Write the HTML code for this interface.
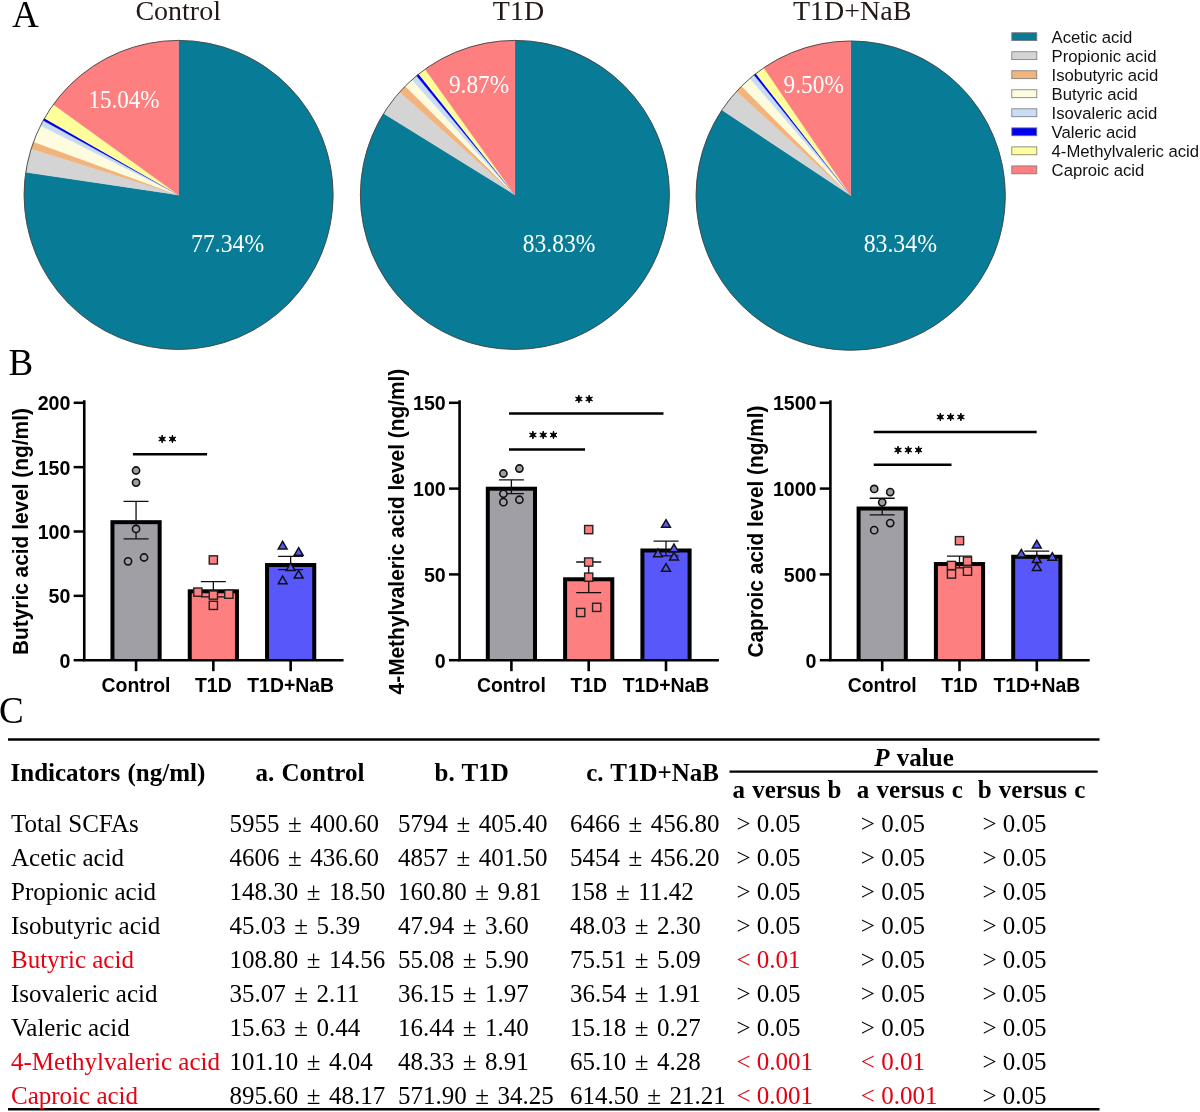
<!DOCTYPE html>
<html><head><meta charset="utf-8"><style>
html,body{margin:0;padding:0;background:#fff;}
svg{display:block;will-change:transform;}
.pt{font-family:"Liberation Serif",serif;font-size:28px;fill:#231815;}
.pl{font-family:"Liberation Serif",serif;font-size:22.5px;fill:#fff;}
.pan{font-family:"Liberation Serif",serif;font-size:37px;fill:#000;}
.lg{font-family:"Liberation Sans",sans-serif;font-size:16.7px;fill:#111;}
.tk{font-family:"Liberation Sans",sans-serif;font-size:19.6px;font-weight:bold;fill:#000;}
.xl{font-family:"Liberation Sans",sans-serif;font-size:19.4px;font-weight:bold;fill:#000;}
.yt{font-family:"Liberation Sans",sans-serif;font-size:21.8px;font-weight:bold;fill:#000;}
.tb{font-family:"Liberation Serif",serif;font-size:25px;font-weight:bold;fill:#000;white-space:pre;word-spacing:1px;}
.td{font-family:"Liberation Serif",serif;font-size:25px;fill:#000;white-space:pre;}
</style></head><body>
<svg width="1200" height="1112" viewBox="0 0 1200 1112">
<rect width="1200" height="1112" fill="#fff"/>
<path d="M178.60,194.90 L178.60,40.40 A154.5,154.5 0 1 1 25.77,172.27 Z" fill="#087c96" stroke="#087c96" stroke-width="0.3"/>
<path d="M178.60,194.90 L25.77,172.27 A154.5,154.5 0 0 1 31.16,148.73 Z" fill="#d4d4d4" stroke="#d4d4d4" stroke-width="0.3"/>
<path d="M178.60,194.90 L31.16,148.73 A154.5,154.5 0 0 1 33.52,141.78 Z" fill="#f2b47c" stroke="#f2b47c" stroke-width="0.3"/>
<path d="M178.60,194.90 L33.52,141.78 A154.5,154.5 0 0 1 40.56,125.51 Z" fill="#fefcde" stroke="#fefcde" stroke-width="0.3"/>
<path d="M178.60,194.90 L40.56,125.51 A154.5,154.5 0 0 1 43.22,120.45 Z" fill="#c8dcf5" stroke="#c8dcf5" stroke-width="0.3"/>
<path d="M178.60,194.90 L43.22,120.45 A154.5,154.5 0 0 1 44.47,118.23 Z" fill="#0000f0" stroke="#0000f0" stroke-width="0.3"/>
<path d="M178.60,194.90 L44.47,118.23 A154.5,154.5 0 0 1 53.39,104.39 Z" fill="#fefe9a" stroke="#fefe9a" stroke-width="0.3"/>
<path d="M178.60,194.90 L53.39,104.39 A154.5,154.5 0 0 1 178.60,40.40 Z" fill="#fe7f7f" stroke="#fe7f7f" stroke-width="0.3"/>
<circle cx="178.6" cy="194.9" r="154.5" fill="none" stroke="#444" stroke-width="0.9"/>
<text x="178.2" y="20" text-anchor="middle" class="pt">Control</text>
<text transform="translate(227.6,251.6) scale(1,1.1)" text-anchor="middle" class="pl" style="font-size:23.7px">77.34%</text>
<text transform="translate(124,107.6) scale(1,1.1)" text-anchor="middle" class="pl" style="font-size:23.1px">15.04%</text>
<path d="M514.90,194.90 L514.90,40.40 A154.5,154.5 0 1 1 383.59,113.49 Z" fill="#087c96" stroke="#087c96" stroke-width="0.3"/>
<path d="M514.90,194.90 L383.59,113.49 A154.5,154.5 0 0 1 399.71,91.94 Z" fill="#d4d4d4" stroke="#d4d4d4" stroke-width="0.3"/>
<path d="M514.90,194.90 L399.71,91.94 A154.5,154.5 0 0 1 405.22,86.09 Z" fill="#f2b47c" stroke="#f2b47c" stroke-width="0.3"/>
<path d="M514.90,194.90 L405.22,86.09 A154.5,154.5 0 0 1 411.91,79.74 Z" fill="#fefcde" stroke="#fefcde" stroke-width="0.3"/>
<path d="M514.90,194.90 L411.91,79.74 A154.5,154.5 0 0 1 416.50,75.79 Z" fill="#c8dcf5" stroke="#c8dcf5" stroke-width="0.3"/>
<path d="M514.90,194.90 L416.50,75.79 A154.5,154.5 0 0 1 418.64,74.05 Z" fill="#0000f0" stroke="#0000f0" stroke-width="0.3"/>
<path d="M514.90,194.90 L418.64,74.05 A154.5,154.5 0 0 1 425.10,69.18 Z" fill="#fefe9a" stroke="#fefe9a" stroke-width="0.3"/>
<path d="M514.90,194.90 L425.10,69.18 A154.5,154.5 0 0 1 514.90,40.40 Z" fill="#fe7f7f" stroke="#fe7f7f" stroke-width="0.3"/>
<circle cx="514.9" cy="194.9" r="154.5" fill="none" stroke="#444" stroke-width="0.9"/>
<text x="518.5" y="20" text-anchor="middle" class="pt">T1D</text>
<text transform="translate(559,251.7) scale(1,1.1)" text-anchor="middle" class="pl" style="font-size:23.6px">83.83%</text>
<text transform="translate(479,92.7) scale(1,1.1)" text-anchor="middle" class="pl" style="font-size:23.3px">9.87%</text>
<path d="M850.70,195.60 L850.70,41.00 A154.6,154.6 0 1 1 721.95,110.01 Z" fill="#087c96" stroke="#087c96" stroke-width="0.3"/>
<path d="M850.70,195.60 L721.95,110.01 A154.6,154.6 0 0 1 736.56,91.33 Z" fill="#d4d4d4" stroke="#d4d4d4" stroke-width="0.3"/>
<path d="M850.70,195.60 L736.56,91.33 A154.6,154.6 0 0 1 741.54,86.12 Z" fill="#f2b47c" stroke="#f2b47c" stroke-width="0.3"/>
<path d="M850.70,195.60 L741.54,86.12 A154.6,154.6 0 0 1 749.86,78.41 Z" fill="#fefcde" stroke="#fefcde" stroke-width="0.3"/>
<path d="M850.70,195.60 L749.86,78.41 A154.6,154.6 0 0 1 754.09,74.91 Z" fill="#c8dcf5" stroke="#c8dcf5" stroke-width="0.3"/>
<path d="M850.70,195.60 L754.09,74.91 A154.6,154.6 0 0 1 755.88,73.50 Z" fill="#0000f0" stroke="#0000f0" stroke-width="0.3"/>
<path d="M850.70,195.60 L755.88,73.50 A154.6,154.6 0 0 1 763.78,67.75 Z" fill="#fefe9a" stroke="#fefe9a" stroke-width="0.3"/>
<path d="M850.70,195.60 L763.78,67.75 A154.6,154.6 0 0 1 850.70,41.00 Z" fill="#fe7f7f" stroke="#fe7f7f" stroke-width="0.3"/>
<circle cx="850.7" cy="195.6" r="154.6" fill="none" stroke="#444" stroke-width="0.9"/>
<text x="852.2" y="20" text-anchor="middle" class="pt">T1D+NaB</text>
<text transform="translate(900.3,251.7) scale(1,1.1)" text-anchor="middle" class="pl" style="font-size:23.8px">83.34%</text>
<text transform="translate(813.7,92.7) scale(1,1.1)" text-anchor="middle" class="pl" style="font-size:23.3px">9.50%</text>
<text x="12" y="26.5" class="pan">A</text>
<text x="8.6" y="374.5" class="pan">B</text>
<text x="-1" y="722.5" class="pan">C</text>
<rect x="1011.8" y="32.70" width="25" height="7.9" fill="#087c96" stroke="#777" stroke-width="0.8"/>
<text x="1051.6" y="42.50" class="lg">Acetic acid</text>
<rect x="1011.8" y="51.73" width="25" height="7.9" fill="#d4d4d4" stroke="#777" stroke-width="0.8"/>
<text x="1051.6" y="61.57" class="lg">Propionic acid</text>
<rect x="1011.8" y="70.76" width="25" height="7.9" fill="#f2b47c" stroke="#777" stroke-width="0.8"/>
<text x="1051.6" y="80.64" class="lg">Isobutyric acid</text>
<rect x="1011.8" y="89.79" width="25" height="7.9" fill="#fefcde" stroke="#777" stroke-width="0.8"/>
<text x="1051.6" y="99.71" class="lg">Butyric acid</text>
<rect x="1011.8" y="108.82" width="25" height="7.9" fill="#c8dcf5" stroke="#777" stroke-width="0.8"/>
<text x="1051.6" y="118.78" class="lg">Isovaleric acid</text>
<rect x="1011.8" y="127.85" width="25" height="7.9" fill="#0000f0" stroke="#777" stroke-width="0.8"/>
<text x="1051.6" y="137.85" class="lg">Valeric acid</text>
<rect x="1011.8" y="146.88" width="25" height="7.9" fill="#fefe9a" stroke="#777" stroke-width="0.8"/>
<text x="1051.6" y="156.92" class="lg">4-Methylvaleric acid</text>
<rect x="1011.8" y="165.91" width="25" height="7.9" fill="#fe7f7f" stroke="#777" stroke-width="0.8"/>
<text x="1051.6" y="175.99" class="lg">Caproic acid</text>
<rect x="110.45" y="520.17" width="51.2" height="140.03" fill="#000"/>
<rect x="114.45" y="524.17" width="43.2" height="136.03" fill="#a09fa6"/>
<rect x="187.75" y="589.31" width="51.2" height="70.89" fill="#000"/>
<rect x="191.75" y="593.31" width="43.2" height="66.89" fill="#fe7f7f"/>
<rect x="265.05" y="563.02" width="51.2" height="97.18" fill="#000"/>
<rect x="269.05" y="567.02" width="43.2" height="93.18" fill="#5757fa"/>
<path d="M84.25,401.55V660.20H342.25" fill="none" stroke="#000" stroke-width="2.6" stroke-linecap="square"/>
<path d="M73.65,660.20H84.25" stroke="#000" stroke-width="2.5"/>
<text x="70.35" y="667.60" text-anchor="end" class="tk">0</text>
<path d="M73.65,595.85H84.25" stroke="#000" stroke-width="2.5"/>
<text x="70.35" y="603.25" text-anchor="end" class="tk">50</text>
<path d="M73.65,531.50H84.25" stroke="#000" stroke-width="2.5"/>
<text x="70.35" y="538.90" text-anchor="end" class="tk">100</text>
<path d="M73.65,467.15H84.25" stroke="#000" stroke-width="2.5"/>
<text x="70.35" y="474.55" text-anchor="end" class="tk">150</text>
<path d="M73.65,402.80H84.25" stroke="#000" stroke-width="2.5"/>
<text x="70.35" y="410.20" text-anchor="end" class="tk">200</text>
<path d="M136.05,660.20V671.20" stroke="#000" stroke-width="2.6"/>
<text x="136.05" y="691.5" text-anchor="middle" class="xl">Control</text>
<path d="M213.35,660.20V671.20" stroke="#000" stroke-width="2.6"/>
<text x="213.35" y="691.5" text-anchor="middle" class="xl">T1D</text>
<path d="M290.65,660.20V671.20" stroke="#000" stroke-width="2.6"/>
<text x="290.65" y="691.5" text-anchor="middle" class="xl">T1D+NaB</text>
<text transform="translate(28.3,531.6) rotate(-90)" text-anchor="middle" class="yt" textLength="247" lengthAdjust="spacingAndGlyphs">Butyric acid level (ng/ml)</text>
<path d="M136.05,501.44V538.91M123.55,501.44H148.55M123.55,538.91H148.55" stroke="#111" stroke-width="1.3" fill="none"/>
<path d="M213.35,581.72V596.91M200.85,581.72H225.85M200.85,596.91H225.85" stroke="#111" stroke-width="1.3" fill="none"/>
<path d="M290.65,556.47V569.57M278.15,556.47H303.15M278.15,569.57H303.15" stroke="#111" stroke-width="1.3" fill="none"/>
<circle cx="136.05" cy="470.50" r="3.6" fill="#a09fa6" stroke="#111" stroke-width="1.6"/>
<circle cx="136.05" cy="482.59" r="3.6" fill="#a09fa6" stroke="#111" stroke-width="1.6"/>
<circle cx="136.05" cy="528.93" r="3.6" fill="#a09fa6" stroke="#111" stroke-width="1.6"/>
<circle cx="128.05" cy="561.36" r="3.6" fill="#a09fa6" stroke="#111" stroke-width="1.6"/>
<circle cx="144.05" cy="557.50" r="3.6" fill="#a09fa6" stroke="#111" stroke-width="1.6"/>
<rect x="209.25" y="555.84" width="8.2" height="8.2" fill="#fe7f7f" stroke="#222" stroke-width="1.4"/>
<rect x="193.75" y="588.02" width="8.2" height="8.2" fill="#fe7f7f" stroke="#222" stroke-width="1.4"/>
<rect x="209.25" y="590.98" width="8.2" height="8.2" fill="#fe7f7f" stroke="#222" stroke-width="1.4"/>
<rect x="224.75" y="590.08" width="8.2" height="8.2" fill="#fe7f7f" stroke="#222" stroke-width="1.4"/>
<rect x="209.25" y="601.27" width="8.2" height="8.2" fill="#fe7f7f" stroke="#222" stroke-width="1.4"/>
<path d="M282.65,541.37L287.05,548.97L278.25,548.97Z" fill="#5757fa" stroke="#111" stroke-width="1.5" stroke-linejoin="miter"/>
<path d="M298.65,547.68L303.05,555.28L294.25,555.28Z" fill="#5757fa" stroke="#111" stroke-width="1.5" stroke-linejoin="miter"/>
<path d="M290.65,562.99L295.05,570.59L286.25,570.59Z" fill="#5757fa" stroke="#111" stroke-width="1.5" stroke-linejoin="miter"/>
<path d="M298.65,570.46L303.05,578.06L294.25,578.06Z" fill="#5757fa" stroke="#111" stroke-width="1.5" stroke-linejoin="miter"/>
<path d="M282.65,576.12L287.05,583.72L278.25,583.72Z" fill="#5757fa" stroke="#111" stroke-width="1.5" stroke-linejoin="miter"/>
<path d="M132.90,454.30H207.10" stroke="#000" stroke-width="2.5"/>
<path d="M162.15,435.10L162.90,437.70L165.53,437.05L163.65,439.00L165.53,440.95L162.90,440.30L162.15,442.90L161.40,440.30L158.77,440.95L160.65,439.00L158.77,437.05L161.40,437.70ZM172.45,435.10L173.20,437.70L175.83,437.05L173.95,439.00L175.83,440.95L173.20,440.30L172.45,442.90L171.70,440.30L169.07,440.95L170.95,439.00L169.07,437.05L171.70,437.70Z" fill="#000" stroke="#000" stroke-width="0.9" stroke-linejoin="round"/>
<rect x="485.80" y="486.71" width="51.2" height="173.49" fill="#000"/>
<rect x="489.80" y="490.71" width="43.2" height="169.49" fill="#a09fa6"/>
<rect x="563.10" y="577.27" width="51.2" height="82.93" fill="#000"/>
<rect x="567.10" y="581.27" width="43.2" height="78.93" fill="#fe7f7f"/>
<rect x="640.40" y="548.49" width="51.2" height="111.71" fill="#000"/>
<rect x="644.40" y="552.49" width="43.2" height="107.71" fill="#5757fa"/>
<path d="M459.60,401.55V660.20H717.60" fill="none" stroke="#000" stroke-width="2.6" stroke-linecap="square"/>
<path d="M449.00,660.20H459.60" stroke="#000" stroke-width="2.5"/>
<text x="445.70" y="667.60" text-anchor="end" class="tk">0</text>
<path d="M449.00,574.40H459.60" stroke="#000" stroke-width="2.5"/>
<text x="445.70" y="581.80" text-anchor="end" class="tk">50</text>
<path d="M449.00,488.60H459.60" stroke="#000" stroke-width="2.5"/>
<text x="445.70" y="496.00" text-anchor="end" class="tk">100</text>
<path d="M449.00,402.80H459.60" stroke="#000" stroke-width="2.5"/>
<text x="445.70" y="410.20" text-anchor="end" class="tk">150</text>
<path d="M511.40,660.20V671.20" stroke="#000" stroke-width="2.6"/>
<text x="511.40" y="691.5" text-anchor="middle" class="xl">Control</text>
<path d="M588.70,660.20V671.20" stroke="#000" stroke-width="2.6"/>
<text x="588.70" y="691.5" text-anchor="middle" class="xl">T1D</text>
<path d="M666.00,660.20V671.20" stroke="#000" stroke-width="2.6"/>
<text x="666.00" y="691.5" text-anchor="middle" class="xl">T1D+NaB</text>
<text transform="translate(403.8,531.6) rotate(-90)" text-anchor="middle" class="yt" textLength="325.6" lengthAdjust="spacingAndGlyphs">4-Methylvaleric acid level (ng/ml)</text>
<path d="M511.40,479.78V493.65M498.90,479.78H523.90M498.90,493.65H523.90" stroke="#111" stroke-width="1.3" fill="none"/>
<path d="M588.70,561.98V592.56M576.20,561.98H601.20M576.20,592.56H601.20" stroke="#111" stroke-width="1.3" fill="none"/>
<path d="M666.00,541.14V555.83M653.50,541.14H678.50M653.50,555.83H678.50" stroke="#111" stroke-width="1.3" fill="none"/>
<circle cx="503.40" cy="473.50" r="3.6" fill="#a09fa6" stroke="#111" stroke-width="1.6"/>
<circle cx="519.40" cy="468.52" r="3.6" fill="#a09fa6" stroke="#111" stroke-width="1.6"/>
<circle cx="503.40" cy="493.75" r="3.6" fill="#a09fa6" stroke="#111" stroke-width="1.6"/>
<circle cx="503.40" cy="502.16" r="3.6" fill="#a09fa6" stroke="#111" stroke-width="1.6"/>
<circle cx="519.40" cy="499.75" r="3.6" fill="#a09fa6" stroke="#111" stroke-width="1.6"/>
<rect x="584.60" y="525.51" width="8.2" height="8.2" fill="#fe7f7f" stroke="#222" stroke-width="1.4"/>
<rect x="584.60" y="557.94" width="8.2" height="8.2" fill="#fe7f7f" stroke="#222" stroke-width="1.4"/>
<rect x="584.60" y="573.05" width="8.2" height="8.2" fill="#fe7f7f" stroke="#222" stroke-width="1.4"/>
<rect x="576.60" y="608.40" width="8.2" height="8.2" fill="#fe7f7f" stroke="#222" stroke-width="1.4"/>
<rect x="592.60" y="603.25" width="8.2" height="8.2" fill="#fe7f7f" stroke="#222" stroke-width="1.4"/>
<path d="M666.00,519.71L670.40,527.31L661.60,527.31Z" fill="#5757fa" stroke="#111" stroke-width="1.5" stroke-linejoin="miter"/>
<path d="M674.00,544.07L678.40,551.67L669.60,551.67Z" fill="#5757fa" stroke="#111" stroke-width="1.5" stroke-linejoin="miter"/>
<path d="M658.00,549.05L662.40,556.65L653.60,556.65Z" fill="#5757fa" stroke="#111" stroke-width="1.5" stroke-linejoin="miter"/>
<path d="M674.00,552.31L678.40,559.91L669.60,559.91Z" fill="#5757fa" stroke="#111" stroke-width="1.5" stroke-linejoin="miter"/>
<path d="M666.00,563.64L670.40,571.24L661.60,571.24Z" fill="#5757fa" stroke="#111" stroke-width="1.5" stroke-linejoin="miter"/>
<path d="M509.00,413.50H663.50" stroke="#000" stroke-width="2.5"/>
<path d="M578.85,395.10L579.60,397.70L582.23,397.05L580.35,399.00L582.23,400.95L579.60,400.30L578.85,402.90L578.10,400.30L575.47,400.95L577.35,399.00L575.47,397.05L578.10,397.70ZM589.15,395.10L589.90,397.70L592.53,397.05L590.65,399.00L592.53,400.95L589.90,400.30L589.15,402.90L588.40,400.30L585.77,400.95L587.65,399.00L585.77,397.05L588.40,397.70Z" fill="#000" stroke="#000" stroke-width="0.9" stroke-linejoin="round"/>
<path d="M509.00,449.50H585.00" stroke="#000" stroke-width="2.5"/>
<path d="M532.90,431.10L533.65,433.70L536.28,433.05L534.40,435.00L536.28,436.95L533.65,436.30L532.90,438.90L532.15,436.30L529.52,436.95L531.40,435.00L529.52,433.05L532.15,433.70ZM543.20,431.10L543.95,433.70L546.58,433.05L544.70,435.00L546.58,436.95L543.95,436.30L543.20,438.90L542.45,436.30L539.82,436.95L541.70,435.00L539.82,433.05L542.45,433.70ZM553.50,431.10L554.25,433.70L556.88,433.05L555.00,435.00L556.88,436.95L554.25,436.30L553.50,438.90L552.75,436.30L550.12,436.95L552.00,435.00L550.12,433.05L552.75,433.70Z" fill="#000" stroke="#000" stroke-width="0.9" stroke-linejoin="round"/>
<rect x="856.60" y="506.52" width="51.2" height="153.68" fill="#000"/>
<rect x="860.60" y="510.52" width="43.2" height="149.68" fill="#a09fa6"/>
<rect x="933.90" y="562.06" width="51.2" height="98.14" fill="#000"/>
<rect x="937.90" y="566.06" width="43.2" height="94.14" fill="#fe7f7f"/>
<rect x="1011.20" y="554.75" width="51.2" height="105.45" fill="#000"/>
<rect x="1015.20" y="558.75" width="43.2" height="101.45" fill="#5757fa"/>
<path d="M830.40,401.55V660.20H1088.40" fill="none" stroke="#000" stroke-width="2.6" stroke-linecap="square"/>
<path d="M819.80,660.20H830.40" stroke="#000" stroke-width="2.5"/>
<text x="816.50" y="667.60" text-anchor="end" class="tk">0</text>
<path d="M819.80,574.40H830.40" stroke="#000" stroke-width="2.5"/>
<text x="816.50" y="581.80" text-anchor="end" class="tk">500</text>
<path d="M819.80,488.60H830.40" stroke="#000" stroke-width="2.5"/>
<text x="816.50" y="496.00" text-anchor="end" class="tk">1000</text>
<path d="M819.80,402.80H830.40" stroke="#000" stroke-width="2.5"/>
<text x="816.50" y="410.20" text-anchor="end" class="tk">1500</text>
<path d="M882.20,660.20V671.20" stroke="#000" stroke-width="2.6"/>
<text x="882.20" y="691.5" text-anchor="middle" class="xl">Control</text>
<path d="M959.50,660.20V671.20" stroke="#000" stroke-width="2.6"/>
<text x="959.50" y="691.5" text-anchor="middle" class="xl">T1D</text>
<path d="M1036.80,660.20V671.20" stroke="#000" stroke-width="2.6"/>
<text x="1036.80" y="691.5" text-anchor="middle" class="xl">T1D+NaB</text>
<text transform="translate(763.2,531.6) rotate(-90)" text-anchor="middle" class="yt" textLength="252" lengthAdjust="spacingAndGlyphs">Caproic acid level (ng/ml)</text>
<path d="M882.20,498.25V514.78M869.70,498.25H894.70M869.70,514.78H894.70" stroke="#111" stroke-width="1.3" fill="none"/>
<path d="M959.50,556.18V567.94M947.00,556.18H972.00M947.00,567.94H972.00" stroke="#111" stroke-width="1.3" fill="none"/>
<path d="M1036.80,551.11V558.39M1024.30,551.11H1049.30M1024.30,558.39H1049.30" stroke="#111" stroke-width="1.3" fill="none"/>
<circle cx="874.20" cy="488.94" r="3.6" fill="#a09fa6" stroke="#111" stroke-width="1.6"/>
<circle cx="890.20" cy="492.03" r="3.6" fill="#a09fa6" stroke="#111" stroke-width="1.6"/>
<circle cx="882.20" cy="502.33" r="3.6" fill="#a09fa6" stroke="#111" stroke-width="1.6"/>
<circle cx="890.20" cy="523.09" r="3.6" fill="#a09fa6" stroke="#111" stroke-width="1.6"/>
<circle cx="874.20" cy="530.13" r="3.6" fill="#a09fa6" stroke="#111" stroke-width="1.6"/>
<rect x="955.40" y="536.58" width="8.2" height="8.2" fill="#fe7f7f" stroke="#222" stroke-width="1.4"/>
<rect x="947.40" y="561.38" width="8.2" height="8.2" fill="#fe7f7f" stroke="#222" stroke-width="1.4"/>
<rect x="963.40" y="557.09" width="8.2" height="8.2" fill="#fe7f7f" stroke="#222" stroke-width="1.4"/>
<rect x="947.40" y="569.96" width="8.2" height="8.2" fill="#fe7f7f" stroke="#222" stroke-width="1.4"/>
<rect x="963.40" y="567.11" width="8.2" height="8.2" fill="#fe7f7f" stroke="#222" stroke-width="1.4"/>
<path d="M1036.80,540.30L1041.20,547.90L1032.40,547.90Z" fill="#5757fa" stroke="#111" stroke-width="1.5" stroke-linejoin="miter"/>
<path d="M1021.30,549.44L1025.70,557.04L1016.90,557.04Z" fill="#5757fa" stroke="#111" stroke-width="1.5" stroke-linejoin="miter"/>
<path d="M1052.30,552.74L1056.70,560.34L1047.90,560.34Z" fill="#5757fa" stroke="#111" stroke-width="1.5" stroke-linejoin="miter"/>
<path d="M1036.80,554.94L1041.20,562.54L1032.40,562.54Z" fill="#5757fa" stroke="#111" stroke-width="1.5" stroke-linejoin="miter"/>
<path d="M1036.80,562.81L1041.20,570.41L1032.40,570.41Z" fill="#5757fa" stroke="#111" stroke-width="1.5" stroke-linejoin="miter"/>
<path d="M873.70,432.00H1036.70" stroke="#000" stroke-width="2.5"/>
<path d="M940.30,413.10L941.05,415.70L943.68,415.05L941.80,417.00L943.68,418.95L941.05,418.30L940.30,420.90L939.55,418.30L936.92,418.95L938.80,417.00L936.92,415.05L939.55,415.70ZM950.60,413.10L951.35,415.70L953.98,415.05L952.10,417.00L953.98,418.95L951.35,418.30L950.60,420.90L949.85,418.30L947.22,418.95L949.10,417.00L947.22,415.05L949.85,415.70ZM960.90,413.10L961.65,415.70L964.28,415.05L962.40,417.00L964.28,418.95L961.65,418.30L960.90,420.90L960.15,418.30L957.52,418.95L959.40,417.00L957.52,415.05L960.15,415.70Z" fill="#000" stroke="#000" stroke-width="0.9" stroke-linejoin="round"/>
<path d="M873.70,464.70H951.50" stroke="#000" stroke-width="2.5"/>
<path d="M898.00,446.10L898.75,448.70L901.38,448.05L899.50,450.00L901.38,451.95L898.75,451.30L898.00,453.90L897.25,451.30L894.62,451.95L896.50,450.00L894.62,448.05L897.25,448.70ZM908.30,446.10L909.05,448.70L911.68,448.05L909.80,450.00L911.68,451.95L909.05,451.30L908.30,453.90L907.55,451.30L904.92,451.95L906.80,450.00L904.92,448.05L907.55,448.70ZM918.60,446.10L919.35,448.70L921.98,448.05L920.10,450.00L921.98,451.95L919.35,451.30L918.60,453.90L917.85,451.30L915.22,451.95L917.10,450.00L915.22,448.05L917.85,448.70Z" fill="#000" stroke="#000" stroke-width="0.9" stroke-linejoin="round"/>
<path d="M8,739.5H1099.5" stroke="#000" stroke-width="2.4"/>
<path d="M729.5,771.7H1097.7" stroke="#000" stroke-width="2.2"/>
<path d="M8,1109.3H1099.5" stroke="#000" stroke-width="2.4"/>
<text x="10.5" y="781.3" class="tb">Indicators (ng/ml)</text>
<text x="255.5" y="781.3" class="tb">a. Control</text>
<text x="434.5" y="781.3" class="tb">b. T1D</text>
<text x="586.2" y="780.8" class="tb">c. T1D+NaB</text>
<text x="914" y="765.6" text-anchor="middle" class="tb"><tspan font-style="italic">P</tspan> value</text>
<text x="732.5" y="798.3" class="tb">a versus b</text>
<text x="856.7" y="798.3" class="tb">a versus</text>
<text x="951.7" y="798.3" class="tb">c</text>
<text x="977.7" y="798.3" class="tb">b versus c</text>
<text x="11" y="831.6" class="td">Total SCFAs</text>
<text x="229.5" y="831.6" class="td" word-spacing="2.3">5955 ± 400.60</text>
<text x="398" y="831.6" class="td" word-spacing="2.3">5794 ± 405.40</text>
<text x="570" y="831.6" class="td" word-spacing="2.3">6466 ± 456.80</text>
<text x="736.4" y="831.6" class="td" style="fill:#000">> 0.05</text>
<text x="860.8" y="831.6" class="td" style="fill:#000">> 0.05</text>
<text x="982.4" y="831.6" class="td" style="fill:#000">> 0.05</text>
<text x="11" y="865.6" class="td">Acetic acid</text>
<text x="229.5" y="865.6" class="td" word-spacing="2.3">4606 ± 436.60</text>
<text x="398" y="865.6" class="td" word-spacing="2.3">4857 ± 401.50</text>
<text x="570" y="865.6" class="td" word-spacing="2.3">5454 ± 456.20</text>
<text x="736.4" y="865.6" class="td" style="fill:#000">> 0.05</text>
<text x="860.8" y="865.6" class="td" style="fill:#000">> 0.05</text>
<text x="982.4" y="865.6" class="td" style="fill:#000">> 0.05</text>
<text x="11" y="899.6" class="td">Propionic acid</text>
<text x="229.5" y="899.6" class="td" word-spacing="2.3">148.30 ± 18.50</text>
<text x="398" y="899.6" class="td" word-spacing="2.3">160.80 ± 9.81</text>
<text x="570" y="899.6" class="td" word-spacing="2.3">158 ± 11.42</text>
<text x="736.4" y="899.6" class="td" style="fill:#000">> 0.05</text>
<text x="860.8" y="899.6" class="td" style="fill:#000">> 0.05</text>
<text x="982.4" y="899.6" class="td" style="fill:#000">> 0.05</text>
<text x="11" y="933.6" class="td">Isobutyric acid</text>
<text x="229.5" y="933.6" class="td" word-spacing="2.3">45.03 ± 5.39</text>
<text x="398" y="933.6" class="td" word-spacing="2.3">47.94 ± 3.60</text>
<text x="570" y="933.6" class="td" word-spacing="2.3">48.03 ± 2.30</text>
<text x="736.4" y="933.6" class="td" style="fill:#000">> 0.05</text>
<text x="860.8" y="933.6" class="td" style="fill:#000">> 0.05</text>
<text x="982.4" y="933.6" class="td" style="fill:#000">> 0.05</text>
<text x="11" y="967.6" class="td" style="fill:#e60012">Butyric acid</text>
<text x="229.5" y="967.6" class="td" word-spacing="2.3">108.80 ± 14.56</text>
<text x="398" y="967.6" class="td" word-spacing="2.3">55.08 ± 5.90</text>
<text x="570" y="967.6" class="td" word-spacing="2.3">75.51 ± 5.09</text>
<text x="736.4" y="967.6" class="td" style="fill:#e60012">< 0.01</text>
<text x="860.8" y="967.6" class="td" style="fill:#000">> 0.05</text>
<text x="982.4" y="967.6" class="td" style="fill:#000">> 0.05</text>
<text x="11" y="1001.6" class="td">Isovaleric acid</text>
<text x="229.5" y="1001.6" class="td" word-spacing="2.3">35.07 ± 2.11</text>
<text x="398" y="1001.6" class="td" word-spacing="2.3">36.15 ± 1.97</text>
<text x="570" y="1001.6" class="td" word-spacing="2.3">36.54 ± 1.91</text>
<text x="736.4" y="1001.6" class="td" style="fill:#000">> 0.05</text>
<text x="860.8" y="1001.6" class="td" style="fill:#000">> 0.05</text>
<text x="982.4" y="1001.6" class="td" style="fill:#000">> 0.05</text>
<text x="11" y="1035.6" class="td">Valeric acid</text>
<text x="229.5" y="1035.6" class="td" word-spacing="2.3">15.63 ± 0.44</text>
<text x="398" y="1035.6" class="td" word-spacing="2.3">16.44 ± 1.40</text>
<text x="570" y="1035.6" class="td" word-spacing="2.3">15.18 ± 0.27</text>
<text x="736.4" y="1035.6" class="td" style="fill:#000">> 0.05</text>
<text x="860.8" y="1035.6" class="td" style="fill:#000">> 0.05</text>
<text x="982.4" y="1035.6" class="td" style="fill:#000">> 0.05</text>
<text x="11" y="1069.6" class="td" style="fill:#e60012">4-Methylvaleric acid</text>
<text x="229.5" y="1069.6" class="td" word-spacing="2.3">101.10 ± 4.04</text>
<text x="398" y="1069.6" class="td" word-spacing="2.3">48.33 ± 8.91</text>
<text x="570" y="1069.6" class="td" word-spacing="2.3">65.10 ± 4.28</text>
<text x="736.4" y="1069.6" class="td" style="fill:#e60012">< 0.001</text>
<text x="860.8" y="1069.6" class="td" style="fill:#e60012">< 0.01</text>
<text x="982.4" y="1069.6" class="td" style="fill:#000">> 0.05</text>
<text x="11" y="1103.6" class="td" style="fill:#e60012">Caproic acid</text>
<text x="229.5" y="1103.6" class="td" word-spacing="2.3">895.60 ± 48.17</text>
<text x="398" y="1103.6" class="td" word-spacing="2.3">571.90 ± 34.25</text>
<text x="570" y="1103.6" class="td" word-spacing="2.3">614.50 ± 21.21</text>
<text x="736.4" y="1103.6" class="td" style="fill:#e60012">< 0.001</text>
<text x="860.8" y="1103.6" class="td" style="fill:#e60012">< 0.001</text>
<text x="982.4" y="1103.6" class="td" style="fill:#000">> 0.05</text>
</svg>
</body></html>
